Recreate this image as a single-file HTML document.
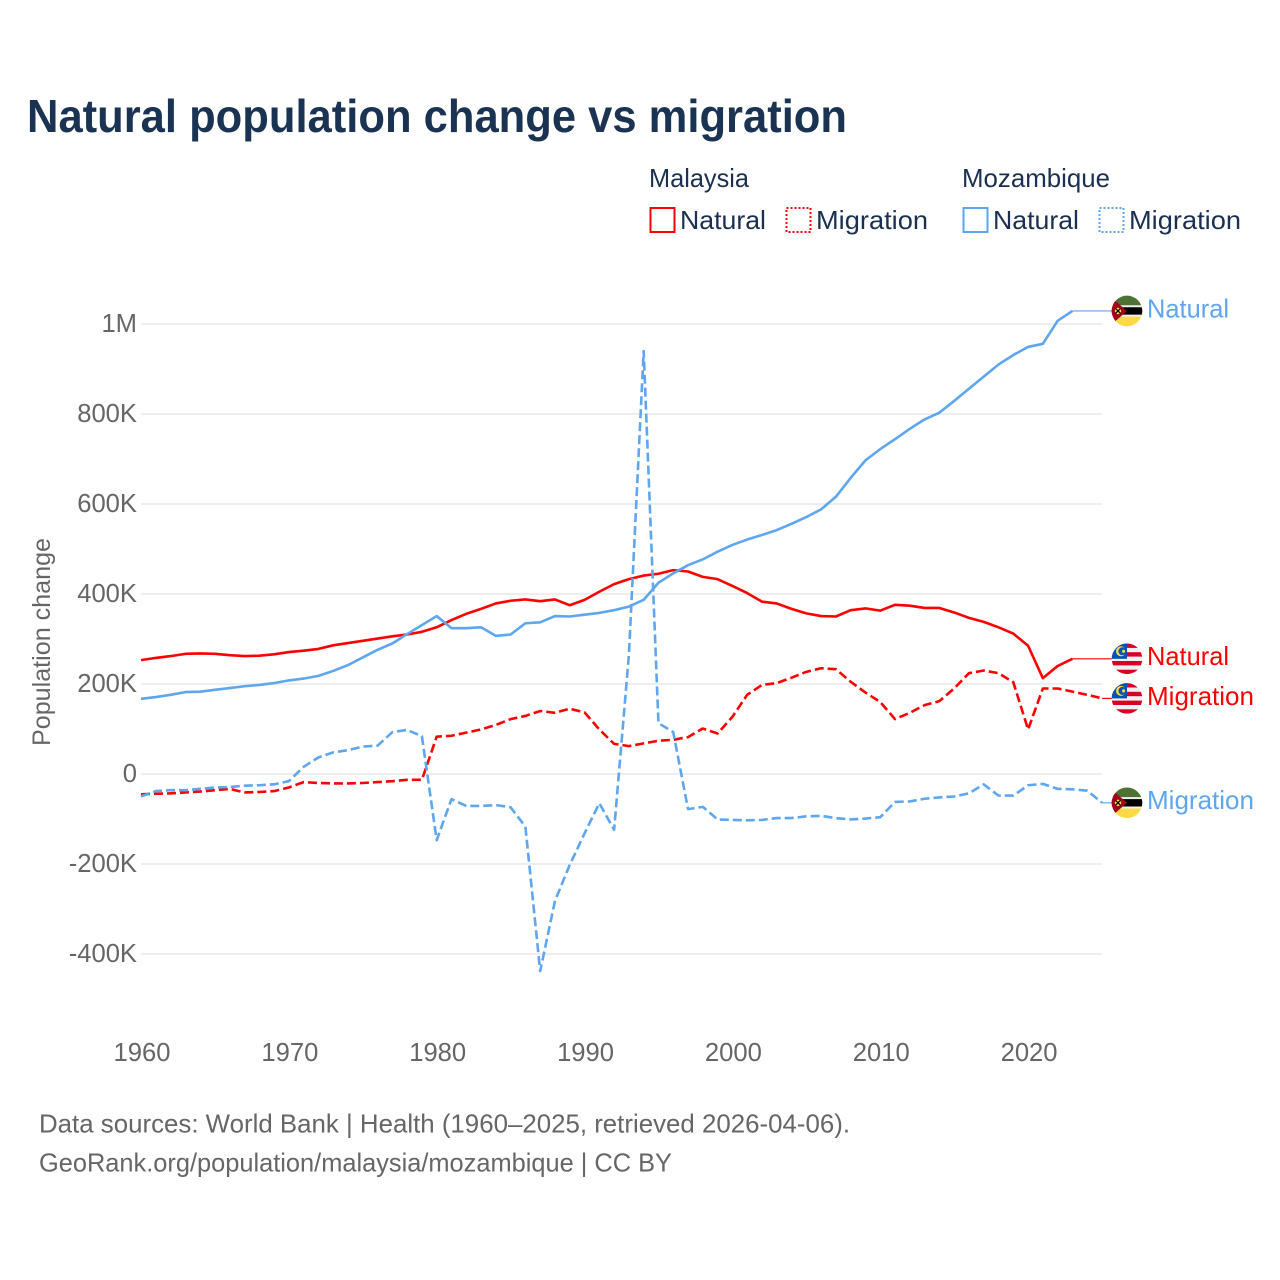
<!DOCTYPE html>
<html lang="en">
<head>
<meta charset="utf-8">
<title>Natural population change vs migration</title>
<style>
  html, body { margin: 0; padding: 0; background: #fff; }
  svg { display: block; font-family: "Liberation Sans", sans-serif; }
  .legend-text { font-size: 26px; fill: #1b3050; }
  .tick-text { font-size: 25.6px; fill: #666; }
  .end-label { font-size: 26px; }
  .source-text { font-size: 26px; fill: #666; }
</style>
</head>
<body>
<svg id="chart" xmlns="http://www.w3.org/2000/svg" width="1280" height="1280" viewBox="0 0 1280 1280">
  <defs>
    <clipPath id="flag-circle"><circle cx="0" cy="0" r="15.3"></circle></clipPath>
  </defs>
  <rect x="0" y="0" width="1280" height="1280" fill="#fff"></rect>

  <text x="27" y="132" font-size="46" font-weight="700" fill="#1a3353" textLength="820" lengthAdjust="spacingAndGlyphs">Natural population change vs migration</text>

  <g>
    <text class="legend-text" x="649" y="187" textLength="100" lengthAdjust="spacingAndGlyphs">Malaysia</text>
    <text class="legend-text" x="962" y="187" textLength="148" lengthAdjust="spacingAndGlyphs">Mozambique</text>

    <g>
      <rect x="650.5" y="208" width="24" height="24" fill="none" stroke="#ff0000" stroke-width="2"></rect>
      <text class="legend-text" x="680" y="229" textLength="86" lengthAdjust="spacingAndGlyphs">Natural</text>
    </g>
    <g>
      <rect x="786.5" y="208" width="24" height="24" fill="none" stroke="#ff0000" stroke-width="2" stroke-dasharray="2 2"></rect>
      <text class="legend-text" x="816" y="229" textLength="112" lengthAdjust="spacingAndGlyphs">Migration</text>
    </g>
    <g>
      <rect x="963.5" y="208" width="24" height="24" fill="none" stroke="#5ea6ee" stroke-width="2"></rect>
      <text class="legend-text" x="993" y="229" textLength="86" lengthAdjust="spacingAndGlyphs">Natural</text>
    </g>
    <g>
      <rect x="1099.5" y="208" width="24" height="24" fill="none" stroke="#5ea6ee" stroke-width="2" stroke-dasharray="2 2"></rect>
      <text class="legend-text" x="1129" y="229" textLength="112" lengthAdjust="spacingAndGlyphs">Migration</text>
    </g>
  </g>

  <text transform="translate(50,642) rotate(-90)" text-anchor="middle" font-size="25" fill="#666" textLength="208" lengthAdjust="spacingAndGlyphs">Population change</text>

  <g id="grid-layer"></g>
  <g id="y-tick-layer"></g>
  <g id="x-tick-layer"></g>
  <g id="series-layer"></g>

  <g id="flag-moz-natural">
    <g clip-path="url(#flag-circle)">
      <rect x="-16" y="-16" width="32" height="32" fill="#f0f0f0"></rect>
      <rect x="-16" y="-16" width="32" height="10.3" fill="#4f7233"></rect>
      <rect x="-16" y="5.7" width="32" height="10.3" fill="#ffda44"></rect>
      <rect x="-16" y="-3.7" width="32" height="7.4" fill="#000"></rect>
      <polygon points="-16,-14 0,0 -16,14" fill="#a2001d"></polygon>
      <circle cx="-9" cy="0" r="3.2" fill="#ffda44"></circle>
      <path d="M-11.5,-2.5 L-6.5,2.5 M-6.5,-2.5 L-11.5,2.5" stroke="#000" stroke-width="1.3"></path>
    </g>
  </g>
  <g id="flag-moz-migration">
    <g clip-path="url(#flag-circle)">
      <rect x="-16" y="-16" width="32" height="32" fill="#f0f0f0"></rect>
      <rect x="-16" y="-16" width="32" height="10.3" fill="#4f7233"></rect>
      <rect x="-16" y="5.7" width="32" height="10.3" fill="#ffda44"></rect>
      <rect x="-16" y="-3.7" width="32" height="7.4" fill="#000"></rect>
      <polygon points="-16,-14 0,0 -16,14" fill="#a2001d"></polygon>
      <circle cx="-9" cy="0" r="3.2" fill="#ffda44"></circle>
      <path d="M-11.5,-2.5 L-6.5,2.5 M-6.5,-2.5 L-11.5,2.5" stroke="#000" stroke-width="1.3"></path>
    </g>
  </g>
  <g id="flag-my-natural">
    <g clip-path="url(#flag-circle)">
      <rect x="-16" y="-16" width="32" height="32" fill="#f0f0f0"></rect>
      <rect x="-16" y="-15.3" width="32" height="4.4" fill="#d80027"></rect>
      <rect x="-16" y="-6.6" width="32" height="4.4" fill="#d80027"></rect>
      <rect x="-16" y="2.2" width="32" height="4.4" fill="#d80027"></rect>
      <rect x="-16" y="10.9" width="32" height="4.4" fill="#d80027"></rect>
      <rect x="-16" y="-16" width="16" height="16" fill="#0052b4"></rect>
      <circle cx="-6" cy="-7.5" r="5" fill="#ffda44"></circle>
      <circle cx="-4.6" cy="-7.5" r="4" fill="#0052b4"></circle>
      <circle cx="-3.4" cy="-7.5" r="1.6" fill="#ffda44"></circle>
    </g>
  </g>
  <g id="flag-my-migration">
    <g clip-path="url(#flag-circle)">
      <rect x="-16" y="-16" width="32" height="32" fill="#f0f0f0"></rect>
      <rect x="-16" y="-15.3" width="32" height="4.4" fill="#d80027"></rect>
      <rect x="-16" y="-6.6" width="32" height="4.4" fill="#d80027"></rect>
      <rect x="-16" y="2.2" width="32" height="4.4" fill="#d80027"></rect>
      <rect x="-16" y="10.9" width="32" height="4.4" fill="#d80027"></rect>
      <rect x="-16" y="-16" width="16" height="16" fill="#0052b4"></rect>
      <circle cx="-6" cy="-7.5" r="5" fill="#ffda44"></circle>
      <circle cx="-4.6" cy="-7.5" r="4" fill="#0052b4"></circle>
      <circle cx="-3.4" cy="-7.5" r="1.6" fill="#ffda44"></circle>
    </g>
  </g>

  <text id="label-moz-natural" class="end-label" x="1147" fill="#5ea6ee" textLength="82" lengthAdjust="spacingAndGlyphs">Natural</text>
  <text id="label-my-natural" class="end-label" x="1147" fill="#ff0000" textLength="82" lengthAdjust="spacingAndGlyphs">Natural</text>
  <text id="label-my-migration" class="end-label" x="1147" fill="#ff0000" textLength="107" lengthAdjust="spacingAndGlyphs">Migration</text>
  <text id="label-moz-migration" class="end-label" x="1147" fill="#5ea6ee" textLength="107" lengthAdjust="spacingAndGlyphs">Migration</text>

  <text class="source-text" x="39" y="1132.5" textLength="811" lengthAdjust="spacingAndGlyphs">Data sources: World Bank | Health (1960–2025, retrieved 2026-04-06).</text>
  <text class="source-text" x="39" y="1171.5" textLength="633" lengthAdjust="spacingAndGlyphs">GeoRank.org/population/malaysia/mozambique | CC BY</text>
</svg>

<script>
// Values are in thousands of people, first value = 1960.
var startYear = 1960;
var endYear = 2025;
var malaysiaNatural = [253,258,262,267,268,267,264,262,263,266,271,274,278,286,291,296,301,306,310,316,326,342,356,367,379,385,388,384,388,375,387,405,422,433,441,445,453,450,438,433,418,402,383,379,367,357,351,350,364,368,363,376,374,369,369,359,347,338,326,312,285,213,240,256];
var malaysiaMigration = [-45,-44,-43,-41,-39,-36,-33,-41,-40,-38,-30,-18,-20,-21,-21,-20,-18,-16,-13,-13,83,85,92,99,109,122,129,140,136,145,137,99,67,62,68,74,76,82,101,90,127,176,198,202,214,227,235,233,205,181,160,122,136,153,162,190,224,230,224,204,99,190,190,183,176,168];
var mozambiqueNatural = [167,171,176,182,183,187,191,195,198,202,208,212,218,229,242,259,276,290,311,331,351,324,324,326,307,310,335,337,351,350,354,358,364,372,387,425,446,464,477,494,509,521,531,542,556,571,588,616,658,697,722,744,767,788,803,829,856,883,910,931,949,956,1007,1029];
var mozambiqueMigration = [-50,-38,-36,-36,-33,-30,-29,-26,-25,-23,-16,16,37,48,53,61,63,93,98,84,-147,-56,-71,-71,-69,-74,-117,-438,-282,-202,-132,-65,-124,264,940,113,93,-78,-73,-101,-102,-103,-102,-98,-98,-94,-93,-98,-101,-99,-96,-62,-61,-55,-52,-50,-43,-23,-48,-48,-25,-22,-33,-34,-37,-64];
var yTickValues = [1000,800,600,400,200,0,-200,-400];
var yTickLabels = ["1M","800K","600K","400K","200K","0","-200K","-400K"];
var xTickYears = [1960,1970,1980,1990,2000,2010,2020];

var NS = "http://www.w3.org/2000/svg";
var plotLeft = 141;
var plotRight = 1102;

function xScale(year) {
  return plotLeft + (year - startYear) * (plotRight - plotLeft) / (endYear - startYear);
}
function yScale(value) {
  return 774 - value * 0.45;
}
function make(tag, parent) {
  var el = document.createElementNS(NS, tag);
  parent.appendChild(el);
  return el;
}

var gridLayer = document.getElementById("grid-layer");
var yTickLayer = document.getElementById("y-tick-layer");
var xTickLayer = document.getElementById("x-tick-layer");
var seriesLayer = document.getElementById("series-layer");

yTickValues.forEach(function (value, i) {
  var gridLine = make("line", gridLayer);
  
  
  gridLine.setAttribute("x1", plotLeft);
  gridLine.setAttribute("x2", plotRight);
  gridLine.setAttribute("y1", yScale(value));
  gridLine.setAttribute("y2", yScale(value));
  gridLine.setAttribute("stroke", "#eeeeee");
  gridLine.setAttribute("stroke-width", "2");

  var tick = make("text", yTickLayer);
  
  
  tick.setAttribute("class", "tick-text");
  tick.setAttribute("x", 137);
  tick.setAttribute("y", yScale(value) + 8);
  tick.setAttribute("text-anchor", "end");
  tick.textContent = yTickLabels[i];
});

xTickYears.forEach(function (year) {
  var tick = make("text", xTickLayer);
  
  
  tick.setAttribute("class", "tick-text");
  tick.setAttribute("x", xScale(year) + 1);
  tick.setAttribute("y", 1061);
  tick.setAttribute("text-anchor", "middle");
  tick.textContent = String(year);
});

function drawSeries(values, color, dashed, seriesName) {
  var d = "";
  values.forEach(function (value, i) {
    d += (i === 0 ? "M" : "L") + xScale(startYear + i).toFixed(2) + "," + yScale(value).toFixed(2);
  });
  var path = make("path", seriesLayer);
  
  
  path.setAttribute("d", d);
  path.setAttribute("fill", "none");
  path.setAttribute("stroke", color);
  path.setAttribute("stroke-width", "2.6");
  path.setAttribute("stroke-linejoin", "round");
  if (dashed) {
    path.setAttribute("stroke-dasharray", "9 4");
  }
  var lastValue = values[values.length - 1];
  var lastYear = startYear + values.length - 1;
  var leader = make("line", seriesLayer);
  
  
  leader.setAttribute("x1", xScale(lastYear));
  leader.setAttribute("x2", 1112);
  leader.setAttribute("y1", yScale(lastValue));
  leader.setAttribute("y2", yScale(lastValue));
  leader.setAttribute("stroke", color);
  leader.setAttribute("stroke-width", "1.2");
  return yScale(lastValue);
}

var yMyNatural = drawSeries(malaysiaNatural, "#ff0000", false, "line-malaysia-natural");
var yMyMigration = drawSeries(malaysiaMigration, "#ff0000", true, "line-malaysia-migration");
var yMozNatural = drawSeries(mozambiqueNatural, "#5ea6ee", false, "line-mozambique-natural");
var yMozMigration = drawSeries(mozambiqueMigration, "#5ea6ee", true, "line-mozambique-migration");

function placeEnd(flagId, labelId, y) {
  document.getElementById(flagId).setAttribute("transform", "translate(1127," + y.toFixed(2) + ")");
  document.getElementById(labelId).setAttribute("y", (y + 6.4).toFixed(2));
}
placeEnd("flag-moz-natural", "label-moz-natural", yMozNatural);
placeEnd("flag-my-natural", "label-my-natural", yMyNatural);
placeEnd("flag-my-migration", "label-my-migration", yMyMigration);
placeEnd("flag-moz-migration", "label-moz-migration", yMozMigration);
</script>
</body>
</html>
